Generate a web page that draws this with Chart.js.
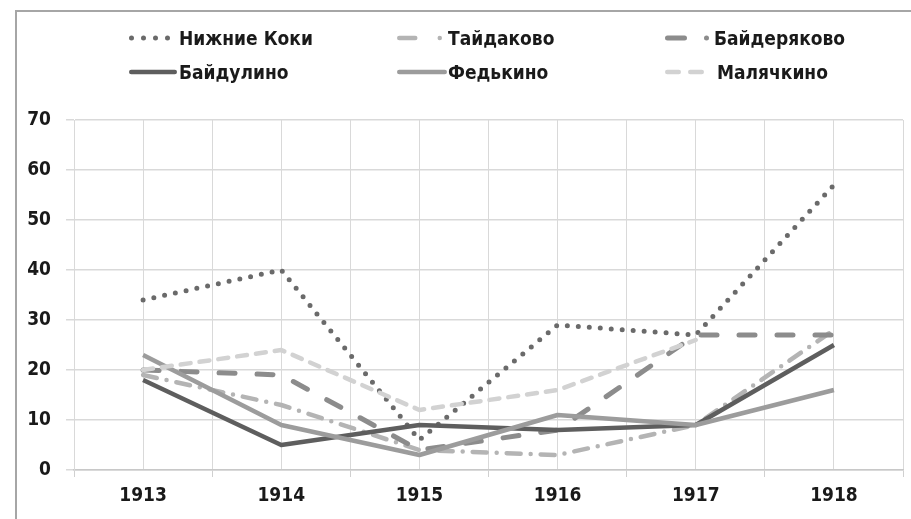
<!DOCTYPE html>
<html>
<head>
<meta charset="utf-8">
<script src="https://cdn.jsdelivr.net/npm/chart.js@4"></script>
<style>
  body { margin: 0; background: #fff; }
  #wrap { position: relative; width: 911px; height: 519px; overflow: hidden; }
  #frame { position: absolute; left: 15px; top: 10px; width: 920px; height: 540px;
           border-left: 2px solid #a6a6a6; border-top: 2px solid #a6a6a6; }
  #chart { position: absolute; left: 0; top: 0; }
  #legend svg, #legend span { position: absolute; }
  #legend span { font-family: "Liberation Sans Narrow", "DejaVu Sans Condensed", "Liberation Sans", sans-serif;
          font-weight: bold; font-size: 19px; line-height: 24px; color: #1a1a1a; white-space: nowrap; }
</style>
</head>
<body>
<div id="wrap">
  <div id="frame"></div>
  <canvas id="chart" width="911" height="519"></canvas>
  <div id="legend"></div>
</div>
<script>
const years = [1913, 1914, 1915, 1916, 1917, 1918];
const seriesNames = ["Нижние Коки", "Тайдаково", "Байдеряково", "Байдулино", "Федькино", "Малячкино"];

const nizhnieKoki = [34, 40, 6, 29, 27, 57];
const taidakovo = [19, 13, 4, 3, 9, 28];
const baideryakovo = [20, 19, 4, 8, 27, 27];
const baidulino = [18, 5, 9, 8, 9, 25];
const fedkino = [23, 9, 3, 11, 9, 16];
const malyachkino = [20, 24, 12, 16, 26, null];

const yTicks = [0, 10, 20, 30, 40, 50, 60, 70];

// line styles (chart) + dash used for the legend sample
const styles = [
  { color: "#6a6a6a", width: 5, dash: [0, 11], cap: "round", legendDash: [0, 12] },
  { color: "#b4b4b4", width: 4.5, dash: [14, 10, 0, 10], cap: "round", legendDash: [16, 24.5, 0, 100] },
  { color: "#8c8c8c", width: 5, dash: [16, 22], cap: "round", legendDash: [17, 22, 0, 100] },
  { color: "#5e5e5e", width: 4.5, dash: [], cap: "round", legendDash: [] },
  { color: "#9c9c9c", width: 4.5, dash: [], cap: "round", legendDash: [] },
  { color: "#d2d2d2", width: 4.5, dash: [10, 9], cap: "round", legendDash: [11.5, 11.5, 11.5, 100] }
];

const values = [nizhnieKoki, taidakovo, baideryakovo, baidulino, fedkino, malyachkino];

const datasets = values.map((vals, i) => ({
  label: seriesNames[i],
  data: vals.map((v, j) => ({ x: years[j], y: v })),
  borderColor: styles[i].color,
  borderWidth: styles[i].width,
  borderDash: styles[i].dash,
  borderCapStyle: styles[i].cap === "round" && styles[i].dash.length ? "round" : "butt",
  borderJoinStyle: "round",
  pointRadius: 0,
  tension: 0,
  fill: false,
  order: 5 - i
}));

// html legend: [symbol x, symbol width, text x, row centre y]
const legendPos = [
  [129, 48, 179, 38], [397, 48, 448, 38], [665, 46, 714, 38],
  [129, 48, 179, 72], [397, 50, 448, 72], [665, 42, 717, 72]
];
const legend = document.getElementById("legend");
seriesNames.forEach((name, i) => {
  const s = styles[i];
  const p = legendPos[i];
  const h = s.width / 2;
  const svg = '<svg width="' + p[1] + '" height="10" style="left:' + p[0] + 'px;top:' + (p[3] - 5) + 'px">' +
    '<line x1="' + h + '" y1="5" x2="' + (p[1] - h) + '" y2="5" stroke="' + s.color +
    '" stroke-width="' + s.width + '" stroke-linecap="round" stroke-dasharray="' + (s.legendDash.join(" ") || "none") +
    '"/></svg>';
  const span = '<span style="left:' + p[2] + 'px;top:' + (p[3] - 12) + 'px">' + name + '</span>';
  legend.insertAdjacentHTML("beforeend", svg + span);
});

const font = { family: '"Liberation Sans Narrow", "DejaVu Sans Condensed", "Liberation Sans", sans-serif', weight: "bold", size: 19 };

new Chart(document.getElementById("chart"), {
  type: "line",
  data: { datasets: datasets },
  options: {
    responsive: false,
    animation: false,
    layout: { padding: { top: 120, right: 7, left: 0, bottom: 0 } },
    plugins: { legend: { display: false }, tooltip: { enabled: false } },
    scales: {
      x: {
        type: "linear",
        min: years[0] - 0.5,
        max: years[years.length - 1] + 0.5,
        afterBuildTicks: (scale) => {
          const t = [];
          for (let v = years[0] - 0.5; v <= years[years.length - 1] + 0.5; v += 0.5) t.push({ value: v });
          scale.ticks = t;
        },
        afterFit: (scale) => { scale.height = 49; },
        ticks: {
          autoSkip: false,
          maxRotation: 0,
          padding: 8,
          color: "#1a1a1a",
          font: font,
          callback: (v) => (Number.isInteger(v) ? String(v) : "")
        },
        grid: {
          color: "#d9d9d9",
          lineWidth: 1,
          tickLength: 7,
          tickColor: (ctx) => (ctx.tick && Number.isInteger(ctx.tick.value) ? "rgba(0,0,0,0)" : "#d0d0d0")
        },
        border: { color: "#c8c8c8", width: 1.5 }
      },
      y: {
        min: 0,
        max: 70,
        afterBuildTicks: (scale) => { scale.ticks = yTicks.map((v) => ({ value: v })); },
        afterFit: (scale) => { scale.width = 74; },
        ticks: { padding: 15, color: "#1a1a1a", font: font },
        grid: { color: "#d9d9d9", lineWidth: 1.5, tickLength: 8, tickColor: "#d9d9d9" },
        border: { color: "#d9d9d9", width: 1 }
      }
    }
  }
});
</script>
</body>
</html>
